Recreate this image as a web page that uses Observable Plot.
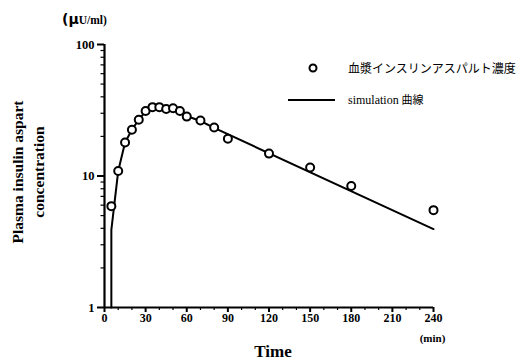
<!DOCTYPE html>
<html><head><meta charset="utf-8">
<script src="https://cdn.jsdelivr.net/npm/d3@7"></script>
<script src="https://cdn.jsdelivr.net/npm/@observablehq/plot@0.6"></script>
<style>
body{margin:0;background:#fff;}
#wrap{position:relative;width:527px;height:363px;overflow:hidden;}
#wrap svg text{font-family:"Liberation Serif",serif !important;font-weight:bold;}
.cjk{font-family:"Noto Sans CJK JP",sans-serif;}
.ser{font-family:"Liberation Serif",serif;font-size:12px;}
</style></head><body><div id="wrap"></div>
<script>
const obsTime = [5,10,15,20,25,30,35,40,45,50,55,60,70,80,90,120,150,180,240];
const obsConc = [5.9,10.9,18.0,22.5,26.8,31.2,33.4,33.4,32.3,32.7,31.2,28.3,26.4,23.4,19.2,14.8,11.6,8.4,5.5];
const simTime = [5,5,10,15,20,25,30,35,40,45,50,55,60,70,80,240];
const simConc = [1,3.9,10.9,18.0,22.5,26.8,31.0,33.2,33.4,32.8,32.3,31.0,28.6,26.2,23.2,3.95];
const xTicks = [0,30,60,90,120,150,180,210,240];
const xMinor = [10,20,40,50,70,80,100,110,130,140,160,170,190,200,220,230];
const yTicks = [1,10,100];
const yMinor = [2,3,4,5,6,7,8,9,20,30,40,50,60,70,80,90];
const legendLabels = ["血漿インスリンアスパルト濃度", "simulation", "曲線"];
const yTitle = "Plasma insulin aspart\nconcentration";
const xTitle = "Time";
const xUnit = "(min)";
const yUnitMu = "(μ";
const yUnit = "U/ml)";

const obs = obsTime.map((t,i)=>({t, c: obsConc[i]}));
const sim = simTime.map((t,i)=>({t, c: simConc[i]}));

const chart = Plot.plot({
  width: 527, height: 363,
  marginLeft: 104, marginRight: 94, marginTop: 44, marginBottom: 56,
  style: {fontFamily: "Liberation Serif", background: "#fff", color: "#000", overflow: "visible"},
  x: {domain: [0,240], label: null},
  y: {type: "log", domain: [1,100], label: null},
  marks: [
    Plot.axisY({ticks: yMinor, tickSize: 3.5, text: null, strokeWidth: 1.2}),
    Plot.axisY({ticks: yTicks, tickSize: 7, tickPadding: 3, strokeWidth: 2, tickFormat: d => String(d), fontSize: 12.5, fontWeight: "bold"}),
    Plot.axisX({ticks: xMinor, tickSize: 3, text: null, strokeWidth: 1.2}),
    Plot.axisX({ticks: xTicks, tickSize: 5, tickPadding: 1, strokeWidth: 2, tickFormat: d => String(d), fontSize: 12, fontWeight: "bold"}),
    Plot.ruleX([0], {y1: 1, y2: 100, strokeWidth: 2.2}),
    Plot.ruleY([1], {x1: 0, x2: 240, strokeWidth: 2.2}),
    Plot.line(sim, {x: "t", y: "c", stroke: "#000", strokeWidth: 2}),
    Plot.dot(obs, {x: "t", y: "c", r: 4, stroke: "#000", strokeWidth: 2, fill: "#fff"}),
    Plot.text([yTitle], {frameAnchor: "left", dx: -78, dy: -4, rotate: -90, fontSize: 15.5, fontWeight: "bold", lineHeight: 1.35, textAnchor: "middle"}),
    Plot.text([xTitle], {frameAnchor: "bottom", dx: 4, dy: 49, fontSize: 17, fontWeight: "bold"}),
    Plot.text([xUnit], {frameAnchor: "bottom-right", dx: -1, dy: 34, fontSize: 11, fontWeight: "bold", textAnchor: "middle"})
  ]
});
const wrap = document.getElementById("wrap");
wrap.appendChild(chart);

function div(html, style){ const d = document.createElement("div"); d.innerHTML = html; d.setAttribute("style", style); wrap.appendChild(d); return d; }
div(`<span style="font-family:'DejaVu Sans';font-weight:900;font-size:14px;">${yUnitMu}</span><span style="font-family:'Liberation Serif';font-weight:bold;font-size:11.5px;">${yUnit}</span>`,
    "position:absolute;left:62px;top:11px;white-space:nowrap;line-height:16px;");
div(`<svg width="12" height="12" style="position:absolute;left:-41px;top:1px"><circle cx="6" cy="6" r="3.5" fill="#fff" stroke="#000" stroke-width="2"/></svg><span class="cjk">${legendLabels[0]}</span>`,
    "position:absolute;left:348px;top:61px;font-size:12px;line-height:14px;white-space:nowrap;");
div(`<div style="position:absolute;left:-60px;top:7px;width:47px;height:2px;background:#000"></div><span class="ser">${legendLabels[1]}</span> <span class="cjk" style="font-size:11px">${legendLabels[2]}</span>`,
    "position:absolute;left:348px;top:92px;font-size:11.5px;line-height:14px;white-space:nowrap;");
</script></body></html>
